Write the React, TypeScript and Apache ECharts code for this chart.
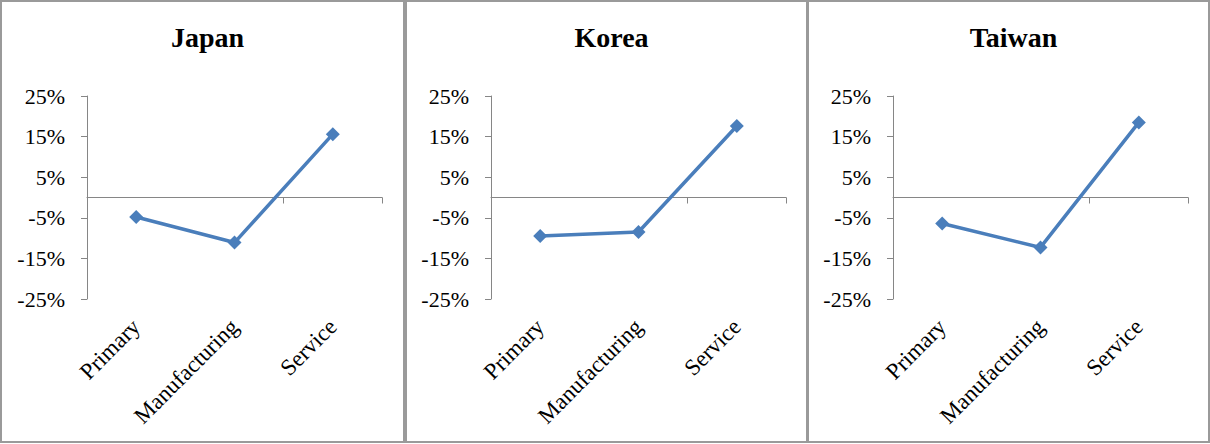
import React, { useEffect, useRef } from "react";
import * as echarts from "echarts";

const categories = ["Primary", "Manufacturing", "Service"];
const countries = ["Japan", "Korea", "Taiwan"];
const japanValues = [-4.8, -11.1, 15.6];
const koreaValues = [-9.5, -8.5, 17.6];
const taiwanValues = [-6.4, -12.3, 18.5];
const yMin = -25;
const yMax = 25;
const yStep = 10;

const seriesValues = [japanValues, koreaValues, taiwanValues];

const FONT = "'Liberation Serif', 'Times New Roman', serif";
const LINE_COLOR = "#4A7EBB";
const AXIS_COLOR = "#868686";

// panel geometry
const panelLefts = [1, 406, 808];
const panelWidths = [403, 401, 401];
const gridLefts = [87, 491, 893];
const gridWidth = 295;
const gridTop = 96;
const gridHeight = 203;

export default function App() {
  const ref = useRef<HTMLDivElement>(null);

  useEffect(() => {
    if (!ref.current) return;
    const chart = echarts.init(ref.current, undefined, { renderer: "svg" });

    const grids = gridLefts.map((left) => ({
      left,
      top: gridTop,
      width: gridWidth,
      height: gridHeight,
      containLabel: false,
    }));

    const xAxes: any[] = [];
    const yAxes: any[] = [];
    const series: any[] = [];

    countries.forEach((name, i) => {
      // labels at the bottom of the plot
      xAxes.push({
        type: "category",
        gridIndex: i,
        data: categories,
        position: "bottom",
        boundaryGap: true,
        axisLine: { show: false, onZero: false },
        axisTick: { show: false },
        axisLabel: {
          rotate: 45,
          margin: 24,
          fontFamily: FONT,
          fontSize: 23,
          color: "#000",
          interval: 0,
        },
      });
      // zero line with category boundary ticks
      xAxes.push({
        type: "category",
        gridIndex: i,
        data: categories,
        position: "bottom",
        boundaryGap: true,
        axisLine: { show: true, onZero: true, lineStyle: { color: AXIS_COLOR, width: 1 } },
        axisTick: { show: true, length: 6, inside: false, lineStyle: { color: AXIS_COLOR } },
        axisLabel: { show: false },
      });
      yAxes.push({
        type: "value",
        gridIndex: i,
        min: yMin,
        max: yMax,
        interval: yStep,
        splitLine: { show: false },
        axisLine: { show: true, lineStyle: { color: AXIS_COLOR, width: 1 } },
        axisTick: { show: true, length: 6, inside: false, lineStyle: { color: AXIS_COLOR } },
        axisLabel: {
          margin: 22,
          fontFamily: FONT,
          fontSize: 22,
          color: "#000",
          formatter: (v: number) => `${v}%`,
        },
      });
      series.push({
        type: "line",
        name,
        xAxisIndex: i * 2,
        yAxisIndex: i,
        data: seriesValues[i],
        symbol: "diamond",
        symbolSize: 14,
        lineStyle: { color: LINE_COLOR, width: 3.5 },
        itemStyle: { color: LINE_COLOR },
      });
    });

    const titles = countries.map((name, i) => ({
      text: name,
      left: panelLefts[i] + panelWidths[i] / 2,
      top: 18,
      textAlign: "center",
      textStyle: {
        fontFamily: FONT,
        fontSize: 28,
        fontWeight: "bold",
        color: "#000",
      },
    }));

    const borders = panelLefts.map((x, i) => ({
      type: "rect",
      shape: { x, y: 1, width: panelWidths[i], height: 441 },
      style: { fill: "none", stroke: "#9a9a9a", lineWidth: 2 },
      silent: true,
    }));

    chart.setOption({
      animation: false,
      backgroundColor: "#fff",
      title: titles,
      grid: grids,
      xAxis: xAxes,
      yAxis: yAxes,
      series,
      graphic: borders,
    });

    return () => chart.dispose();
  }, []);

  return (
    <div
      ref={ref}
      style={{ position: "absolute", left: 0, top: 0, width: 1210, height: 444 }}
    />
  );
}
